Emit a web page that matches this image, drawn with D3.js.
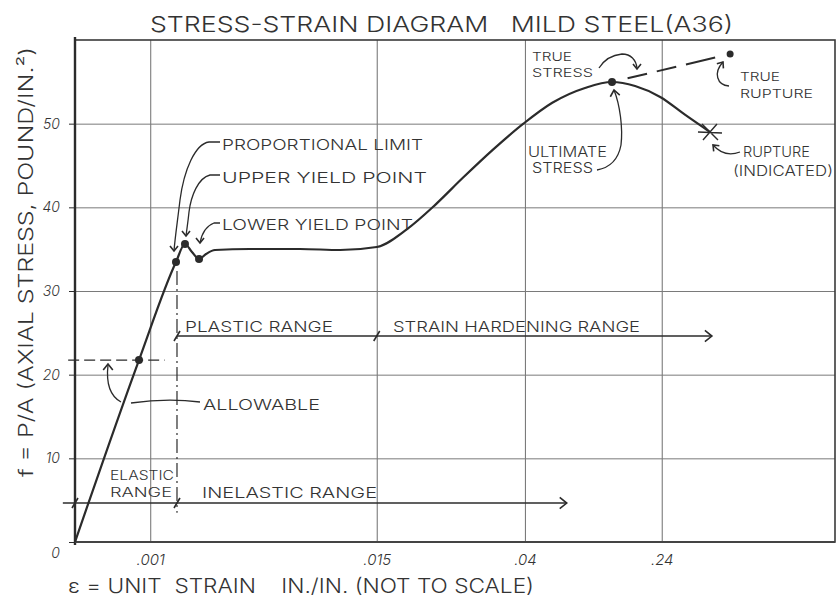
<!DOCTYPE html>
<html>
<head>
<meta charset="utf-8">
<script src="https://cdn.jsdelivr.net/npm/d3@7"></script>
<style>
  body { margin: 0; background: #fff; }
  svg text { font-family: Inter, "Open Sans", "DejaVu Sans", sans-serif; font-weight: 300; fill: #333; white-space: pre; }
</style>
</head>
<body>
<svg id="chart"></svg>
<script>
// strain axis is "not to scale": values are positions along the sketch, labels are the strains
const strainTicks = [9.9, 39.7, 59.2, 77.2];
const strainLabels = [".001", ".015", ".04", ".24"];
const stressTicks = [0, 10, 20, 30, 40, 50];

// engineering stress-strain curve (strain position, stress ksi)
const curveStrain = [0, 8.42, 13.29, 14.47, 15.39, 16.32, 17.24, 18.42, 23.0, 29.6, 34.9, 39.7, 43.7, 47.4, 51.0, 55.0, 59.0, 62.8, 67.2, 70.66, 73.7, 77.0, 80.3, 83.55];
const curveStress = [0, 21.75, 33.47, 35.62, 34.66, 33.82, 34.42, 34.9, 35.02, 35.02, 34.9, 35.26, 37.4, 40.3, 43.5, 46.9, 50.0, 52.5, 54.3, 54.98, 54.5, 53.19, 51.04, 49.0];

// marked points
const pointNames = ["allowable", "proportional", "upperYield", "lowerYield", "ultimate", "trueRupture"];
const pointStrain = [8.42, 13.29, 14.47, 16.32, 70.66, 86.2];
const pointStress = [21.75, 33.47, 35.62, 33.82, 54.98, 58.33];

// true stress branch (dashed)
const trueStrain = [70.66, 86.2];
const trueStress = [54.98, 58.33];
const ruptureStrain = 83.55, ruptureStress = 49.0;

// range limits
const allowableStress = 21.75;
const proportionalStrain = 13.42;
const hardeningStrain = 39.7;

const width = 837, height = 600;
const svg = d3.select("#chart").attr("width", width).attr("height", height);

const x = d3.scaleLinear().domain([0, 100]).range([75, 835]);
const y = d3.scaleLinear().domain([0, 60]).range([542, 40]);

const ink = "#2b2b2b";

// grid
svg.append("g")
  .attr("transform", "translate(0,542)")
  .call(d3.axisBottom(x).tickValues(strainTicks).tickSize(-502).tickFormat(""))
  .call(g => g.select(".domain").remove())
  .call(g => g.selectAll("line").attr("stroke", "#6e6e6e").attr("stroke-width", 1));
svg.append("g")
  .attr("transform", "translate(75,0)")
  .call(d3.axisLeft(y).tickValues(stressTicks.slice(1)).tickSize(-760).tickFormat(""))
  .call(g => g.select(".domain").remove())
  .call(g => g.selectAll("line").attr("stroke", "#7a7a7a").attr("stroke-width", 1));

// frame
svg.append("rect").attr("x", x(0)).attr("y", y(60)).attr("width", x(100) - x(0)).attr("height", y(0) - y(60))
  .attr("fill", "none").attr("stroke", "#3a3a3a").attr("stroke-width", 1.6);
svg.append("line").attr("x1", x(0)).attr("x2", x(0)).attr("y1", y(60) - 3).attr("y2", y(0) + 3)
  .attr("stroke", ink).attr("stroke-width", 2.4);
svg.append("line").attr("x1", x(0)).attr("x2", x(100)).attr("y1", y(0)).attr("y2", y(0))
  .attr("stroke", "#444").attr("stroke-width", 2.2);

// axes labels
svg.append("g")
  .attr("transform", "translate(75,0)")
  .call(d3.axisLeft(y).tickValues(stressTicks).tickSize(6).tickPadding(9))
  .call(g => g.select(".domain").remove())
  .call(g => g.selectAll("line").attr("stroke", ink))
  .call(g => g.selectAll("text").style("font-size", "14px").style("font-style", "italic"))
  .call(g => g.selectAll(".tick").filter(d => d === 0).select("text").attr("dy", "1.1em"));
svg.append("g")
  .attr("transform", "translate(0,542)")
  .call(d3.axisBottom(x).tickValues(strainTicks).tickSize(0).tickPadding(12).tickFormat((d, i) => strainLabels[i]))
  .call(g => g.select(".domain").remove())
  .call(g => g.selectAll("text").style("font-size", "15px").style("font-style", "italic"));

// title and axis titles
svg.append("text").attr("x", 150).attr("y", 32).attr("textLength", 583).attr("lengthAdjust", "spacingAndGlyphs")
  .style("font-size", "22px").text("STRESS-STRAIN DIAGRAM   MILD STEEL(A36)");
svg.append("text").attr("x", 68).attr("y", 593).attr("textLength", 466).attr("lengthAdjust", "spacingAndGlyphs")
  .style("font-size", "20px").text("ε = UNIT  STRAIN    IN./IN. (NOT TO SCALE)");
svg.append("text").attr("transform", "translate(33,262) rotate(-90)").attr("text-anchor", "middle")
  .attr("textLength", 430).attr("lengthAdjust", "spacingAndGlyphs")
  .style("font-size", "20px").text("f = P/A (AXIAL STRESS, POUND/IN.²)");

// helpers
const chevron = (g, px, py, dir, s = 7) => {
  // open arrowhead, dir in degrees (0 = pointing right)
  g.append("path")
    .attr("d", `M${-s},${-s * 0.8}L0,0L${-s},${s * 0.8}`)
    .attr("transform", `translate(${px},${py}) rotate(${dir})`)
    .attr("fill", "none").attr("stroke", ink).attr("stroke-width", 1.6);
};
const tickMark = (g, px, py) => {
  g.append("line").attr("x1", px - 3).attr("y1", py + 5).attr("x2", px + 3).attr("y2", py - 5)
    .attr("stroke", ink).attr("stroke-width", 1.6);
};
const label = (txt, px, py, len, size = 15) => {
  svg.append("text").attr("x", px).attr("y", py).attr("textLength", len).attr("lengthAdjust", "spacingAndGlyphs")
    .style("font-size", size + "px").text(txt);
};

const ann = svg.append("g");

// allowable dashed level
ann.append("line").attr("x1", x(-0.9)).attr("x2", x(11.8)).attr("y1", y(allowableStress)).attr("y2", y(allowableStress))
  .attr("stroke", ink).attr("stroke-width", 1.2).attr("stroke-dasharray", "11,5");
// proportional limit dash-dot vertical
ann.append("line").attr("x1", x(proportionalStrain)).attr("x2", x(proportionalStrain)).attr("y1", y(32.4)).attr("y2", y(3.5))
  .attr("stroke", ink).attr("stroke-width", 1.2).attr("stroke-dasharray", "14,4,2,4");

// plastic / strain hardening range
const yPl = y(24.62);
ann.append("line").attr("x1", x(proportionalStrain)).attr("x2", x(83.8)).attr("y1", yPl).attr("y2", yPl)
  .attr("stroke", ink).attr("stroke-width", 1.4);
tickMark(ann, x(proportionalStrain), yPl);
tickMark(ann, x(hardeningStrain), yPl);
chevron(ann, x(83.8), yPl, 0);
label("PLASTIC RANGE", 185, 332, 148);
label("STRAIN HARDENING RANGE", 393, 332, 247);

// elastic / inelastic range
const yEl = y(4.66);
ann.append("line").attr("x1", x(-1.6)).attr("x2", x(64.7)).attr("y1", yEl).attr("y2", yEl)
  .attr("stroke", ink).attr("stroke-width", 1.4);
tickMark(ann, x(0), yEl);
tickMark(ann, x(proportionalStrain), yEl);
chevron(ann, x(64.7), yEl, 0);
label("ELASTIC", 110, 480, 64, 13);
label("RANGE", 110, 497, 62, 13);
label("INELASTIC RANGE", 202, 498, 175);

// main curve
const line = d3.line().x(d => x(d[0])).y(d => y(d[1])).curve(d3.curveMonotoneX);
svg.append("path").datum(curveStrain.map((s, i) => [s, curveStress[i]]))
  .attr("d", line).attr("fill", "none").attr("stroke", ink).attr("stroke-width", 2.2);

// true stress dashed branch
svg.append("path").datum(trueStrain.map((s, i) => [s, trueStress[i]]))
  .attr("d", d3.line().x(d => x(d[0])).y(d => y(d[1])))
  .attr("fill", "none").attr("stroke", ink).attr("stroke-width", 2).attr("stroke-dasharray", "0,16,20,10,20,10,30,0");

// points
svg.append("g").selectAll("circle")
  .data(pointNames)
  .enter()
  .append("circle")
    .attr("cx", (d, i) => x(pointStrain[i]))
    .attr("cy", (d, i) => y(pointStress[i]))
    .attr("r", (d, i) => d === "trueRupture" ? 3.5 : 4)
    .attr("fill", ink);

// rupture mark
const rx = x(ruptureStrain), ry = y(ruptureStress);
ann.append("path")
  .attr("d", `M${rx - 12},${ry}L${rx + 12},${ry + 1}M${rx - 8},${ry - 8}L${rx + 8},${ry + 8}M${rx - 7},${ry + 8}L${rx + 7},${ry - 8}`)
  .attr("stroke", ink).attr("stroke-width", 1.4).attr("fill", "none");

// leaders
const leader = d => ann.append("path").attr("d", d).attr("fill", "none").attr("stroke", ink).attr("stroke-width", 1.3);

label("PROPORTIONAL LIMIT", 222, 150, 201);
leader("M220,142L209,142C195,144 184,170 180,200C177,225 175,238 174,251");
chevron(ann, 174, 251, 90, 5);

label("UPPER YIELD POINT", 222, 183, 205);
leader("M220,175L210,175C198,178 191,196 189,212C188,222 187,228 186,236");
chevron(ann, 186, 236, 90, 5);

label("LOWER YIELD POINT", 222, 230, 191);
leader("M220,223L214,223C206,226 202,232 200,243");
chevron(ann, 200, 243, 90, 5);

label("ALLOWABLE", 203, 410, 117);
leader("M108,365C106,383 110,396 121,402");
leader("M131,403C152,400 176,399 200,402");
chevron(ann, 108, 364, -90, 6);

label("TRUE", 532, 61, 40, 12);
label("STRESS", 532, 77, 61, 12);
leader("M599,68C604,60 612,55 622,54C631,54 636,60 637,68");
chevron(ann, 637, 69, 90, 5);

label("ULTIMATE", 528, 157, 79, 14);
label("STRESS", 532, 173, 61, 14);
leader("M597,170C608,168 618,161 621,145C623,128 620,105 614,90");
chevron(ann, 614, 90, -100, 6);

label("TRUE", 740, 81, 40, 12);
label("RUPTURE", 740, 98, 73, 12);
leader("M729,86C717,85 713,73 723,62");
chevron(ann, 723, 62, -55, 5);

label("RUPTURE", 743, 157, 67, 14);
label("(INDICATED)", 733, 176, 100, 14);
leader("M740,152C729,156 720,153 713,145");
chevron(ann, 713, 145, -135, 5);
</script>
</body>
</html>
